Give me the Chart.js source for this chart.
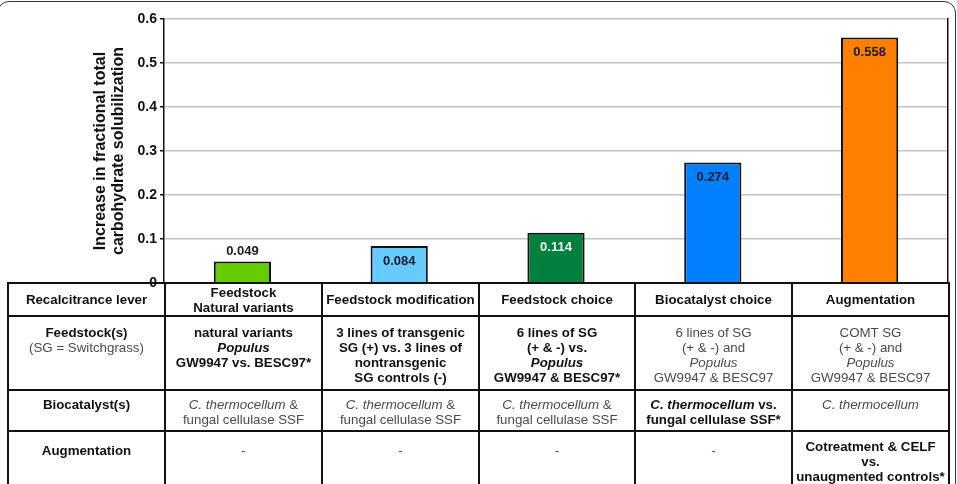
<!DOCTYPE html>
<html>
<head>
<meta charset="utf-8">
<script src="https://cdn.jsdelivr.net/npm/chart.js@4.4.1/dist/chart.umd.min.js"></script>
<style>
    html, body { margin: 0; padding: 0; background: #fff; overflow: hidden; }
    body { width: 957px; height: 484px; position: relative; font-family: "Liberation Sans", Arial, sans-serif; }
    #frame {
        position: absolute; left: -3px; top: 1px; width: 959px; height: 500px;
        border: 1.5px solid #333; border-radius: 12px; box-sizing: border-box;
    }
    #chartBox { position: absolute; left: 0; top: 0; width: 957px; height: 300px; }
    #levers {
        position: absolute; left: 7px; top: 282px; width: 941px;
        border-collapse: collapse; table-layout: fixed;
        font-size: 13.3px; line-height: 15px; color: #4a4a4a;
    }
    #levers td {
        border: 2px solid #111; text-align: center; vertical-align: top;
        padding: 8px 1px 0 1px; overflow: hidden; white-space: nowrap;
    }
    #levers tr.head td { vertical-align: middle; padding: 0 1px; font-weight: bold; color: #111; height: 31px; }
    #levers tr.feed td { height: 64px; }
    #levers tr.bio td { height: 33px; padding-top: 6px; }
    #levers tr.aug td { height: 60px; padding-top: 7px; }
    #levers td.rowhead { font-weight: bold; color: #111; }
    #levers tr.aug td.rowhead, #levers tr.aug td.dash { padding-top: 11px; }
    #levers b { color: #111; }
    #levers .n { font-weight: normal; color: #4a4a4a; }
</style>
</head>
<body>
<div id="frame"></div>
<div id="chartBox"><canvas id="leverChart"></canvas></div>
<table id="levers">
    <colgroup>
        <col style="width:157px"><col style="width:157px"><col style="width:157px">
        <col style="width:156px"><col style="width:157px"><col style="width:157px">
    </colgroup>
    <tbody></tbody>
</table>
<script>
// Chart values
const levers = [
    ['Feedstock', 'Natural variants'],
    ['Feedstock modification'],
    ['Feedstock choice'],
    ['Biocatalyst choice'],
    ['Augmentation']
];
const increases = [0.049, 0.084, 0.114, 0.274, 0.558];
const yTicks = [0, 0.1, 0.2, 0.3, 0.4, 0.5, 0.6];

// Table rows under the bars
const rowHeads = [
    'Recalcitrance lever',
    'Feedstock(s)<br><span class="n">(SG = Switchgrass)</span>',
    'Biocatalyst(s)',
    'Augmentation'
];
const feedstocks = [
    '<b>natural variants<br><i>Populus</i><br>GW9947 vs. BESC97*</b>',
    '<b>3 lines of transgenic<br>SG (+) vs. 3 lines of<br>nontransgenic<br>SG controls (-)</b>',
    '<b>6 lines of SG<br>(+ &amp; -) vs.<br><i>Populus</i><br>GW9947 &amp; BESC97*</b>',
    '6 lines of SG<br>(+ &amp; -) and<br><i>Populus</i><br>GW9947 &amp; BESC97',
    'COMT SG<br>(+ &amp; -) and<br><i>Populus</i><br>GW9947 &amp; BESC97'
];
const biocatalysts = [
    '<i>C. thermocellum</i> &amp;<br>fungal cellulase SSF',
    '<i>C. thermocellum</i> &amp;<br>fungal cellulase SSF',
    '<i>C. thermocellum</i> &amp;<br>fungal cellulase SSF',
    '<b><i>C. thermocellum</i> vs.<br>fungal cellulase SSF*</b>',
    '<i>C. thermocellum</i>'
];
const augmentations = [
    '-', '-', '-', '-',
    '<b>Cotreatment &amp; CELF<br>vs.<br>unaugmented controls*</b>'
];

const barColors = ['#66cc00', '#66ccff', '#007f3f', '#0080ff', '#ff8000'];
const labelColors = ['#1a1a2a', '#1a1a2a', '#f2f2f2', '#1a1a2a', '#1a1a2a'];

// Build the table
function buildTable() {
    const tbody = document.querySelector('#levers tbody');
    const rows = [
        { cls: 'head', cells: levers.map(l => l.join('<br>')) },
        { cls: 'feed', cells: feedstocks },
        { cls: 'bio', cells: biocatalysts },
        { cls: 'aug', cells: augmentations }
    ];
    rows.forEach((row, r) => {
        const tr = document.createElement('tr');
        tr.className = row.cls;
        const th = document.createElement('td');
        th.className = 'rowhead';
        th.innerHTML = rowHeads[r];
        tr.appendChild(th);
        row.cells.forEach(html => {
            const td = document.createElement('td');
            if (html === '-') td.className = 'dash';
            td.innerHTML = html;
            tr.appendChild(td);
        });
        tbody.appendChild(tr);
    });
}

// Value labels: above short bars, inside the top of tall ones
const valueLabels = {
    id: 'valueLabels',
    afterDatasetsDraw(chart) {
        const ctx = chart.ctx;
        const meta = chart.getDatasetMeta(0);
        ctx.save();
        ctx.font = 'bold 13px "Liberation Sans", Arial, sans-serif';
        ctx.textAlign = 'center';
        ctx.textBaseline = 'middle';
        meta.data.forEach((bar, i) => {
            const h = bar.base - bar.y;
            const text = increases[i].toFixed(3);
            if (h < 30) {
                ctx.fillStyle = '#1a1a2a';
                ctx.fillText(text, bar.x, bar.y - 10);
            } else {
                ctx.fillStyle = labelColors[i];
                ctx.fillText(text, bar.x, bar.y + 15);
            }
        });
        ctx.restore();
    }
};

function createChart() {
    const ctx = document.getElementById('leverChart');
    return new Chart(ctx, {
        type: 'bar',
        data: {
            labels: levers,
            datasets: [{
                data: increases,
                backgroundColor: barColors,
                borderColor: '#111',
                borderWidth: 2,
                categoryPercentage: 1,
                barPercentage: 0.365
            }]
        },
        options: {
            responsive: true,
            maintainAspectRatio: false,
            animation: false,
            layout: { padding: { top: 19, right: 9, bottom: 17, left: 0 } },
            plugins: {
                legend: { display: false },
                tooltip: { enabled: false }
            },
            scales: {
                x: { display: false },
                y: {
                    min: 0,
                    max: 0.6,
                    afterBuildTicks: (scale) => { scale.ticks = yTicks.map(v => ({ value: v })); },
                    afterFit: (scale) => { scale.width = 164; },
                    ticks: {
                        color: '#111',
                        padding: 3,
                        font: { family: '"Liberation Sans", Arial, sans-serif', size: 14, weight: 'bold' },
                        callback: (v) => String(Math.round(v * 10) / 10)
                    },
                    grid: { color: '#c4c4c4', lineWidth: 1.5, tickColor: '#111', tickLength: 4 },
                    border: { color: '#111', width: 1.5 },
                    title: {
                        display: true,
                        text: ['Increase in fractional total', 'carbohydrate solubilization'],
                        color: '#111',
                        font: { family: '"Liberation Sans", Arial, sans-serif', size: 16, weight: 'bold', lineHeight: 1.15 },
                        padding: { top: 91, bottom: 0 }
                    }
                },
                y2: {
                    position: 'right',
                    min: 0,
                    max: 0.6,
                    afterFit: (scale) => { scale.width = 0; },
                    ticks: { display: false },
                    grid: { drawOnChartArea: false, drawTicks: false },
                    border: { color: '#111', width: 1.5 }
                }
            }
        },
        plugins: [valueLabels]
    });
}

buildTable();
createChart();
</script>
</body>
</html>
